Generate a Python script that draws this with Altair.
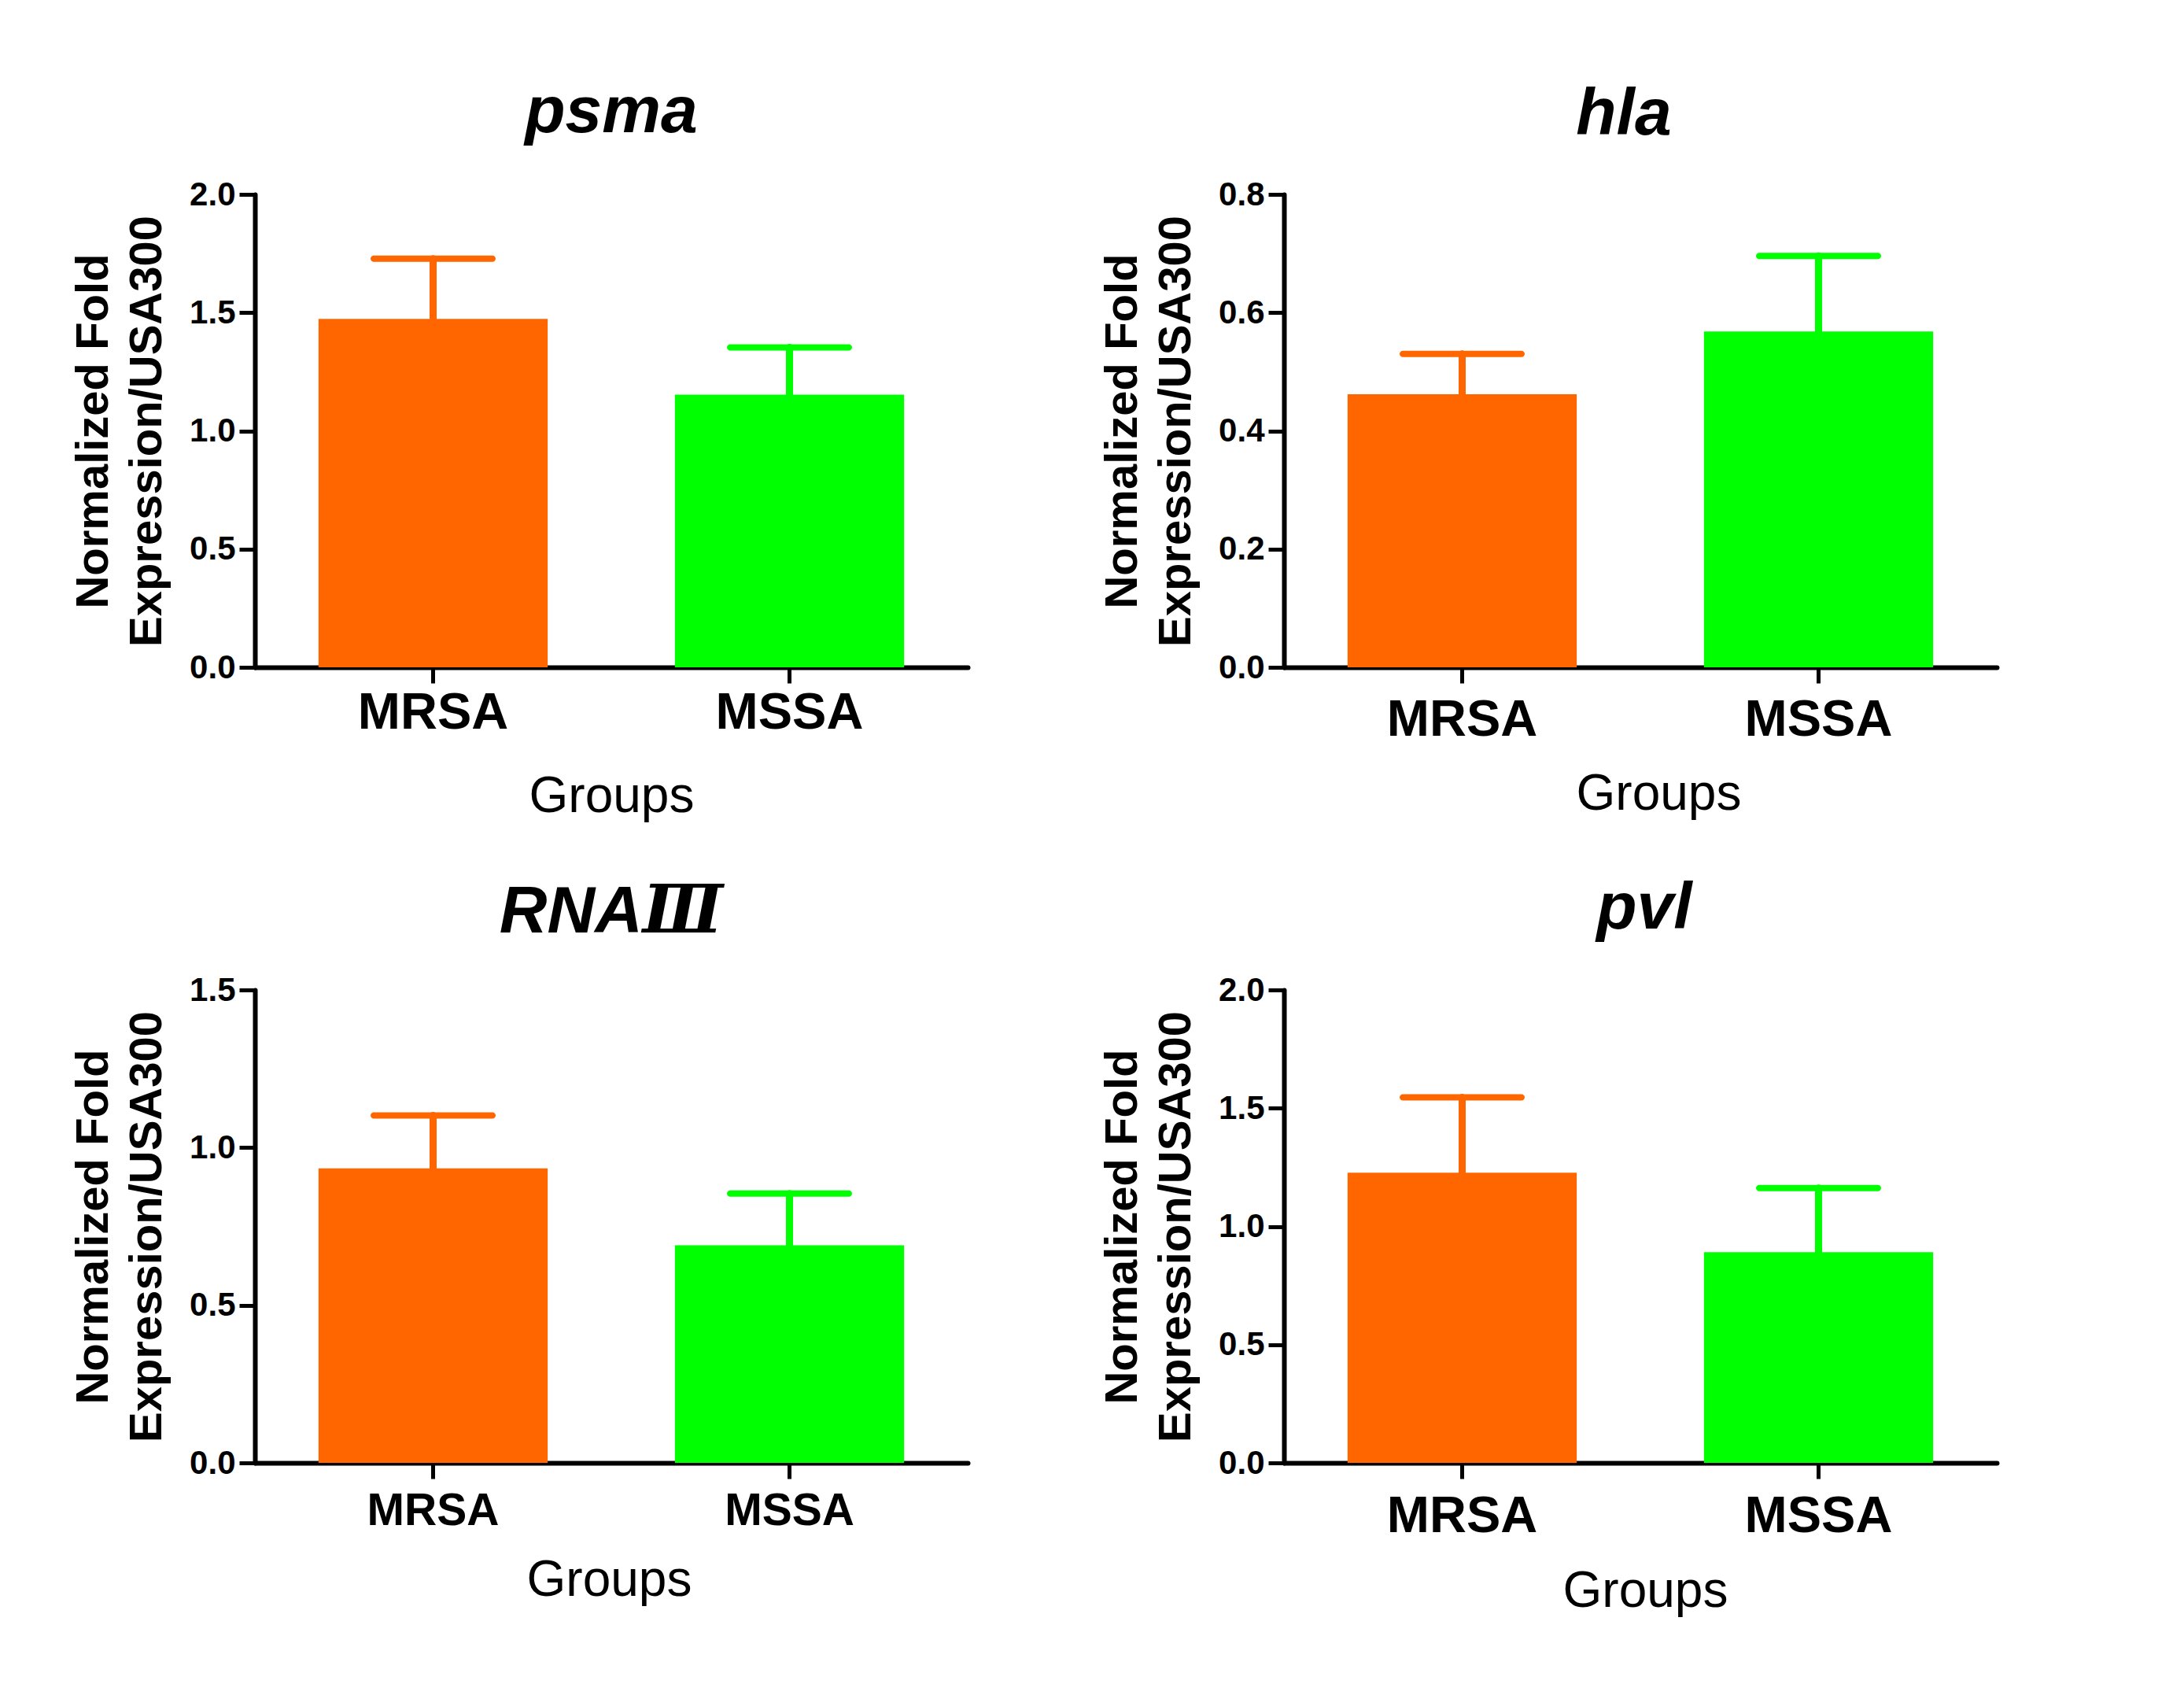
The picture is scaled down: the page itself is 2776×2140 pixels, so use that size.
import altair as alt
import pandas as pd

groups = ["MRSA", "MSSA"]
bar_colors = ["#FF6600", "#00FF00"]

genes = ["psma", "hla", "RNAⅢ", "pvl"]

psma_mean = [1.473, 1.153]
psma_upper = [1.728, 1.353]
hla_mean = [0.462, 0.568]
hla_upper = [0.530, 0.696]
rna_mean = [0.934, 0.690]
rna_upper = [1.102, 0.854]
pvl_mean = [1.227, 0.891]
pvl_upper = [1.546, 1.162]

psma_ticks = [0.0, 0.5, 1.0, 1.5, 2.0]
hla_ticks = [0.0, 0.2, 0.4, 0.6, 0.8]
rna_ticks = [0.0, 0.5, 1.0, 1.5]
pvl_ticks = [0.0, 0.5, 1.0, 1.5, 2.0]

y_title = ["Normalized Fold", "Expression/USA300"]
x_title = "Groups"

FONT = "Liberation Sans, Arial, DejaVu Serif"
PW, PH = 906, 601


def panel(gene, means, uppers, ticks, xlab_size, xlab_pad, xtitle_pad, title_off,
          title_dx, xtitle_dx):
    df = pd.DataFrame({"group": groups, "mean": means, "upper": uppers})
    xax = alt.Axis(
        title=x_title, labelAngle=0, labelFontSize=xlab_size, labelPadding=xlab_pad,
        titlePadding=xtitle_pad, titleFontSize=64, titleFontWeight="normal",
        labelFontWeight="bold", labelLimit=0, titleX=PW / 2 + xtitle_dx,
    )
    yax = alt.Axis(
        title=y_title, values=ticks, format=".1f", labelFontSize=42, labelPadding=5,
        titleFontSize=58, titleFontWeight="bold", titleLineHeight=68, titlePadding=24,
        labelFontWeight="bold",
    )
    x = alt.X("group:N", sort=groups, axis=xax,
              scale=alt.Scale(paddingInner=0.357, paddingOuter=0.1785))
    yscale = alt.Scale(domain=[ticks[0], ticks[-1]], nice=False)
    color = alt.Color("group:N", scale=alt.Scale(domain=groups, range=bar_colors), legend=None)
    base = alt.Chart(df)
    bars = base.mark_bar().encode(x=x, y=alt.Y("mean:Q", scale=yscale, axis=yax), color=color)
    rule = base.mark_rule(strokeWidth=9, strokeCap="round").encode(
        x=x, y=alt.Y("mean:Q", scale=yscale, axis=yax), y2="upper:Q", color=color)
    cap = base.mark_tick(thickness=8, size=159, cornerRadius=4, opacity=1).encode(
        x=x, y=alt.Y("upper:Q", scale=yscale, axis=yax), color=color)
    return alt.layer(bars, rule, cap).properties(
        width=PW, height=PH,
        title=alt.TitleParams(gene, fontSize=84, fontWeight="bold", fontStyle="italic",
                              font=FONT, color="black", frame="group",
                              baseline="alphabetic", offset=title_off, anchor="middle",
                              dx=title_dx),
    )


p1 = panel(genes[0], psma_mean, psma_upper, psma_ticks, 65, 6, 42, -26, 0, 0)
p2 = panel(genes[1], hla_mean, hla_upper, hla_ticks, 65, 15, 30, -29, -21, 23)
p3 = panel(genes[2], rna_mean, rna_upper, rna_ticks, 57, 13, 28, -32, 0, -3)
p4 = panel(genes[3], pvl_mean, pvl_upper, pvl_ticks, 65, 16, 31, -27, 5, 6)

row1 = alt.hconcat(p1, p2, spacing=168)
row2 = alt.hconcat(p3, p4, spacing=168)

chart = alt.vconcat(row1, row2, spacing=69).properties(
    padding={"left": 82, "top": 93, "right": 20, "bottom": 20},
    background="white",
).configure_view(stroke=None).configure_axis(
    grid=False, domainColor="black", domainWidth=6, tickColor="black", tickWidth=5,
    tickSize=20, labelColor="black", titleColor="black", labelFont=FONT, titleFont=FONT,
    labelOverlap=False, domainCap="round",
).configure_concat(spacing=0)

chart.save("out.html", embed_options={"renderer": "svg", "actions": False})
